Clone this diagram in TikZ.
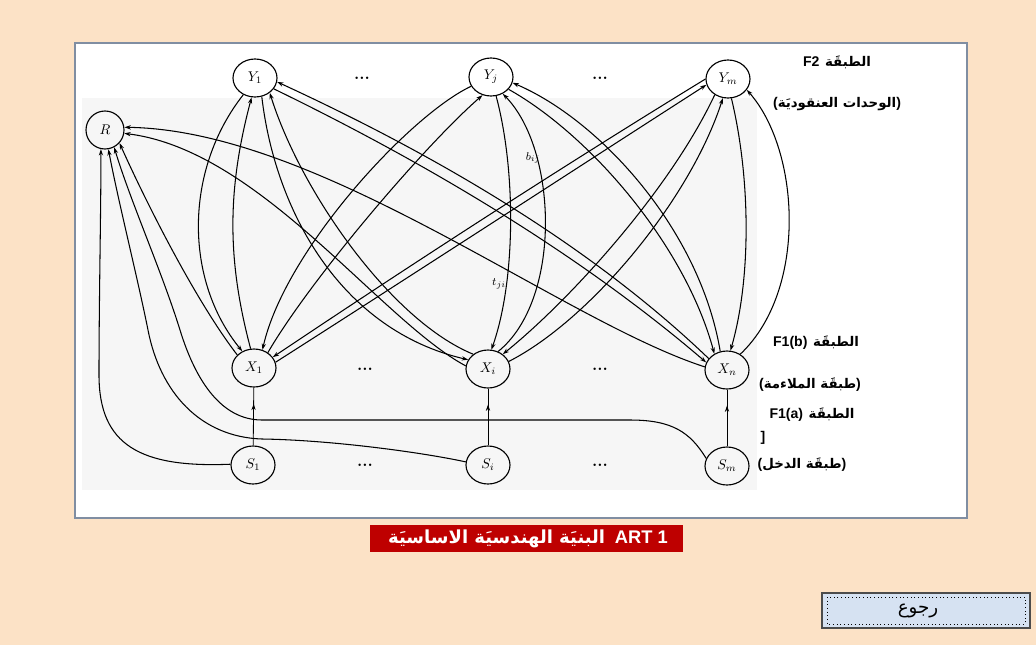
\documentclass[tikz,border=0pt]{standalone}
\usepackage{fontspec}
\usetikzlibrary{shapes.geometric,arrows.meta,decorations.markings}
\newfontfamily\arabicfont[Script=Arabic]{DejaVu Sans}
\newfontfamily\latinsans{Liberation Sans}
\TeXXeTstate=1
\definecolor{pagebg}{RGB}{252,226,198}
\definecolor{panelline}{RGB}{128,142,162}
\definecolor{scangray}{RGB}{246,246,246}
\definecolor{capred}{RGB}{190,0,0}
\definecolor{btnfill}{RGB}{214,226,242}
\newcommand{\arb}[1]{{\arabicfont\bfseries\fontsize{9.5}{11}\selectfont\beginR #1\endR}}
\newcommand{\lsb}[1]{{\latinsans\bfseries #1}}
\begin{document}
\begin{tikzpicture}[x=0.025cm,y=-0.025cm,
  neuron/.style={draw,ellipse,line width=0.8pt,inner sep=0pt,
    minimum width=1.1cm,minimum height=0.95cm,font=\fontsize{10}{11}\selectfont},
  conn/.style={line width=0.75pt},
  ahead/.style={-{Stealth[length=4.5pt,width=3pt]}},
  midarr/.style={postaction={decorate},decoration={markings,
    mark=at position 0.72 with {\arrow{Stealth[length=4.5pt,width=3pt]}}}},
  dots/.style={font=\fontsize{12}{12}\selectfont\bfseries},
  lab/.style={font=\fontsize{10}{12}\selectfont},
  wlab/.style={font=\fontsize{8}{9}\selectfont,inner sep=1pt}]
\useasboundingbox (0,0) rectangle (1036,645);
\fill[pagebg] (0,0) rectangle (1036,645);
% white panel
\draw[panelline,line width=1.5pt,fill=white] (75,43) rectangle (967,518);
\fill[scangray] (82,98) rectangle (757,490);

% units
\node[neuron] (Y1) at (255,78) {$Y_1$};
\node[neuron] (Yj) at (491,77) {$Y_j$};
\node[neuron] (Ym) at (728,79) {$Y_m$};
\node[neuron,minimum width=0.95cm] (R) at (105,130) {$R$};
\node[neuron] (X1) at (254,368) {$X_1$};
\node[neuron] (Xi) at (488,369) {$X_i$};
\node[neuron] (Xn) at (727,370) {$X_n$};
\node[neuron] (S1) at (253,465) {$S_1$};
\node[neuron] (Si) at (488,465) {$S_i$};
\node[neuron] (Sm) at (727,466) {$S_m$};

\node[dots] (d1) at (362,78) {...};
\node[dots] (d2) at (600,78) {...};
\node[dots] (d3) at (365,369) {...};
\node[dots] (d4) at (600,369) {...};
\node[dots] (d5) at (365,465) {...};
\node[dots] (d6) at (600,465) {...};

% X_1 -- Y_1
\draw[conn,ahead] (Y1.235) .. controls (184,170) and (184,280) .. (X1.125);
\draw[conn,ahead] (X1.100) .. controls (227,260) and (227,190) .. (Y1.260);
% X_i -- Y_j
\draw[conn,ahead] (Yj.285) .. controls (516,170) and (516,280) .. (Xi.80);
\draw[conn,ahead] (Xi.60) .. controls (562,300) and (558,150) .. (Yj.305);
% X_n -- Y_m
\draw[conn,ahead] (Ym.280) .. controls (751,180) and (751,280) .. (Xn.80);
\draw[conn,ahead] (Xn.50) .. controls (808,290) and (800,150) .. (Ym.330);
% X_1 -- Y_j
\draw[conn,ahead] (Yj.205) .. controls (410,115) and (285,250) .. (X1.65);
\draw[conn,ahead] (X1.48) .. controls (310,280) and (425,145) .. (Yj.245);
% X_1 -- Y_m
\draw[conn,ahead] (Ym.180) .. controls (560,168) and (415,262) .. (X1.30);
\draw[conn,ahead] (X1.15) .. controls (420,270) and (563,177) .. (Ym.195);
% X_i -- Y_1
\draw[conn,ahead] (Y1.290) .. controls (275,210) and (340,330) .. (Xi.155);
\draw[conn,ahead] (Xi.135) .. controls (390,320) and (300,190) .. (Y1.315);
% X_i -- Y_m
\draw[conn,ahead] (Ym.230) .. controls (670,190) and (570,300) .. (Xi.45);
\draw[conn,ahead] (Xi.20) .. controls (590,320) and (690,200) .. (Ym.255);
% X_n -- Y_1
\draw[conn,ahead] (Y1.330) .. controls (420,160) and (575,250) .. (Xn.160);
\draw[conn,ahead] (Xn.148) .. controls (585,240) and (425,150) .. (Y1.350);
% X_n -- Y_j
\draw[conn,ahead] (Yj.325) .. controls (590,135) and (685,245) .. (Xn.128);
\draw[conn,ahead] (Xn.110) .. controls (700,230) and (600,120) .. (Yj.345);

\node[wlab] (bij) at (533,158) {$b_{ij}$};
\node[wlab] (tji) at (499,284) {$t_{ji}$};

% input to interface
\draw[line width=0.6pt,midarr] (S1) -- (X1);
\draw[line width=0.6pt,midarr] (Si) -- (Xi);
\draw[line width=0.6pt,midarr] (Sm) -- (Xn);

% signals to the reset unit
\draw[conn,ahead] (S1.178) .. controls (140,468) and (99,445) .. (99,375)
  .. controls (99,300) and (101,210) .. (R.258);
\draw[conn,ahead] (Si.172) .. controls (420,452) and (330,440) .. (262,439)
  .. controls (200,437) and (160,392) .. (148,330)
  .. controls (138,280) and (118,200) .. (R.280);
\draw[conn,ahead] (Sm.160) .. controls (690,432) and (672,420) .. (630,420)
  -- (262,420) .. controls (222,420) and (196,382) .. (180,330)
  .. controls (162,272) and (130,200) .. (R.298);
\draw[conn,ahead] (X1.142) .. controls (195,300) and (145,200) .. (R.318);
\draw[conn,ahead] (Xi.172) .. controls (380,320) and (260,150) .. (R.350);
\draw[conn,ahead] (Xn.172) .. controls (560,320) and (320,130) .. (R.8);

% layer names
\node[lab] (l1) at (837,62) {\lsb{F2}\hspace{4pt}\arb{الطبقَة}};
\node[lab] (l2) at (837,104) {\lsb{(}\arb{الوحدات العنقوديَة}\lsb{)}};
\node[lab] (l3) at (816,343) {\lsb{F1(b)}\hspace{4pt}\arb{الطبقَة}};
\node[lab] (l4) at (810,385) {\lsb{(}\arb{طبقَة الملاءمة}\lsb{)}};
\node[lab] (l5) at (812,415) {\lsb{F1(a)}\hspace{4pt}\arb{الطبقَة}};
\node[lab] (l6) at (763,438) {\lsb{]}};
\node[lab] (l7) at (802,465) {\lsb{(}\arb{طبقَة الدخل}\lsb{)}};

% caption
\fill[capred] (370,525) rectangle (683,552);
\node[text=white] (cap) at (528,538.5) {{\arabicfont\bfseries\fontsize{12.8}{14}\selectfont\beginR البنيَة الهندسيَة الاساسيَة\endR}\hspace{7pt}{\latinsans\bfseries\fontsize{13}{14}\selectfont ART 1}};

% back button
\draw[gray!60!black,line width=1.2pt,fill=btnfill] (822,593) rectangle (1030,628);
\draw[black,dotted,line width=0.6pt] (827,597) rectangle (1025,624);
\node (back) at (918,611) {{\arabicfont\fontsize{13}{15}\selectfont\beginR رجوع\endR}};
\end{tikzpicture}
\end{document}
